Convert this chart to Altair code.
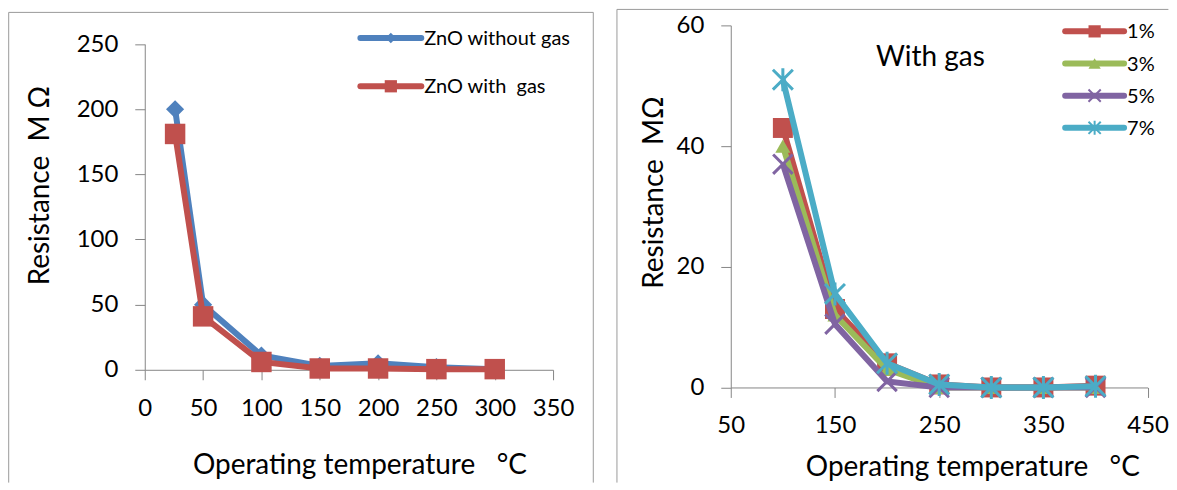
import altair as alt
import pandas as pd

NB = "\u00a0"

# ---------------- data ----------------
temp_left = [26, 50, 100, 150, 200, 250, 300]
zno_without_gas = [200, 50, 11, 3, 5, 2, 0.5]
zno_with_gas = [181, 41, 6, 1, 1, 0.5, 0.5]
left_series = ["ZnO without gas", "ZnO with" + NB + NB + "gas"]
left_x_ticks = [0, 50, 100, 150, 200, 250, 300, 350]
left_y_ticks = [0, 50, 100, 150, 200, 250]

temp_right = [100, 150, 200, 250, 300, 350, 400]
gas_1 = [43, 13, 4, 0.5, 0, 0, 0.3]
gas_3 = [40, 12, 3, 0, 0, 0, 0]
gas_5 = [37, 10.5, 1, 0, 0, 0, 0]
gas_7 = [51, 15.5, 4, 0.5, 0, 0, 0.2]
right_series = ["1%", "3%", "5%", "7%"]
right_x_ticks = [50, 150, 250, 350, 450]
right_y_ticks = [0, 20, 40, 60]

x_title = "Operating temperature" + NB * 3 + "°C"
left_y_title = "Resistance" + NB * 2 + "M" + NB + "Ω"
right_y_title = "Resistance" + NB * 2 + "MΩ"
right_note = "With gas"

left_df = pd.DataFrame({
    "temp": temp_left * 2,
    "res": zno_without_gas + zno_with_gas,
    "series": [left_series[0]] * len(temp_left) + [left_series[1]] * len(temp_left),
})
right_df = pd.DataFrame({
    "temp": temp_right * 4,
    "res": gas_1 + gas_3 + gas_5 + gas_7,
    "series": sum([[s] * len(temp_right) for s in right_series], []),
})
one = pd.DataFrame({"k": [0]})

# ---------------- styles ----------------
FONT = "Lato"
AXIS_GRAY = "#868686"
FRAME_GRAY = "#9a9a9a"
X_PATH = "M-1,-1L1,1M-1,1L1,-1"
AST_PATH = "M-1,-1L1,1M-1,1L1,-1M0,-1.15L0,1.15"

left_styles = {
    left_series[0]: dict(color="#4F81BD", shape="diamond", size=330, filled=True),
    left_series[1]: dict(color="#C0504D", shape="square", size=420, filled=True),
}
right_styles = {
    "1%": dict(color="#C0504D", shape="square", size=400, filled=True),
    "3%": dict(color="#9BBB59", shape="triangle-up", size=230, filled=True),
    "5%": dict(color="#8064A2", shape=X_PATH, size=380, filled=False),
    "7%": dict(color="#4BACC6", shape=AST_PATH, size=400, filled=False),
}


def frame_rule(x, y, x2=None, y2=None, color=FRAME_GRAY, sw=1):
    enc = dict(x=alt.value(x), y=alt.value(y))
    if x2 is not None:
        enc["x2"] = alt.value(x2)
    if y2 is not None:
        enc["y2"] = alt.value(y2)
    return alt.Chart(one).mark_rule(color=color, strokeWidth=sw).encode(**enc)


def series_layers(df, name, st, x_enc, y_enc):
    base = alt.Chart(df).transform_filter(alt.datum.series == name)
    line = base.mark_line(color=st["color"], strokeWidth=6).encode(x=x_enc, y=y_enc)
    if st["filled"]:
        pts = base.mark_point(shape=st["shape"], size=st["size"], filled=True,
                              color=st["color"], opacity=1)
    else:
        pts = base.mark_point(shape=st["shape"], size=st["size"], filled=False,
                              color=st["color"], strokeWidth=3, opacity=1)
    return [line, pts.encode(x=x_enc, y=y_enc)]


def legend_row(label, st, x0, x1, y, tx, msize, fsize):
    line = alt.Chart(one).mark_rule(color=st["color"], strokeWidth=6, strokeCap="round").encode(
        x=alt.value(x0), x2=alt.value(x1), y=alt.value(y))
    if st["filled"]:
        mk = alt.Chart(one).mark_point(shape=st["shape"], size=msize, filled=True,
                                       color=st["color"], opacity=1)
    else:
        mk = alt.Chart(one).mark_point(shape=st["shape"], size=msize, filled=False,
                                       color=st["color"], strokeWidth=2, opacity=1)
    mk = mk.encode(x=alt.value((x0 + x1) / 2), y=alt.value(y))
    txt = alt.Chart(one).mark_text(text=label, align="left", baseline="middle",
                                   font=FONT, fontSize=fsize, color="#000000").encode(
        x=alt.value(tx), y=alt.value(y + 1))
    return [line, mk, txt]


# ---------------- left panel ----------------
LW, LH = 409, 345
lx = alt.X("temp:Q", scale=alt.Scale(domain=[0, 350], nice=False, zero=False),
           axis=alt.Axis(values=left_x_ticks, title=x_title,
                         tickSize=10, labelPadding=17, labelFlush=False, labelOverlap=False,
                         titleX=215, titleY=96, titleAlign="center", titleBaseline="middle",
                         titleAngle=0))
ly = alt.Y("res:Q", scale=alt.Scale(domain=[0, 250], nice=False, range=[345, 18.7]),
           axis=alt.Axis(values=left_y_ticks, title=left_y_title,
                         tickSize=10, labelPadding=17, labelFlush=False, labelOverlap=False,
                         titleX=-104, titleY=160, titleAngle=270, titleAlign="center",
                         titleBaseline="middle"))

left_layers = [
    frame_rule(-136.3, -13, y2=458),
    frame_rule(-136.3, -13, x2=449.3),
    frame_rule(449.3, -13, y2=458),
]
for s in left_series:
    left_layers += series_layers(left_df, s, left_styles[s], lx, ly)
left_layers += legend_row(left_series[0], left_styles[left_series[0]], 216, 277, 12.7, 280, 110, 20)
left_layers += legend_row(left_series[1], left_styles[left_series[1]], 216, 277, 61, 280, 150, 20)
left_chart = alt.layer(*left_layers).properties(width=LW, height=LH)

# ---------------- right panel ----------------
RW, RH = 417.6, 362.7
rx = alt.X("temp:Q", scale=alt.Scale(domain=[50, 450], nice=False, zero=False),
           axis=alt.Axis(values=right_x_ticks, title=x_title,
                         tickSize=10, labelPadding=16, labelFlush=False, labelOverlap=False,
                         titleX=242, titleY=80, titleAlign="center", titleBaseline="middle",
                         titleAngle=0))
ry = alt.Y("res:Q", scale=alt.Scale(domain=[0, 60], nice=False),
           axis=alt.Axis(values=right_y_ticks, title=right_y_title,
                         tickSize=10, labelPadding=17, labelFlush=False, labelOverlap=False,
                         titleX=-76, titleY=167, titleAngle=270, titleAlign="center",
                         titleBaseline="middle"))

right_layers = [
    frame_rule(-114, -16, y2=458),
    frame_rule(-114, -16, x2=438.4),
]
for s in right_series:
    right_layers += series_layers(right_df, s, right_styles[s], rx, ry)
right_layers.append(
    alt.Chart(one).mark_text(text=right_note, align="center", baseline="middle",
                             font=FONT, fontSize=28, color="#000000").encode(
        x=alt.value(200), y=alt.value(33)))
for i, s in enumerate(right_series):
    right_layers += legend_row(s, right_styles[s], 335, 394, 6 + i * 32.2, 397, 150, 20)
right_chart = alt.layer(*right_layers).properties(width=RW, height=RH)

chart = alt.hconcat(left_chart, right_chart, spacing=22).properties(
    padding=0, background="#ffffff"
).configure_view(stroke=None).configure_axis(
    domainColor=AXIS_GRAY, tickColor=AXIS_GRAY, grid=False,
    labelFont=FONT, labelFontSize=24, labelColor="#000000",
    titleFont=FONT, titleFontSize=28, titleFontWeight="normal", titleColor="#000000",
    domainWidth=1, tickWidth=1,
)

chart.save("out.html", embed_options={"renderer": "svg", "actions": False})
